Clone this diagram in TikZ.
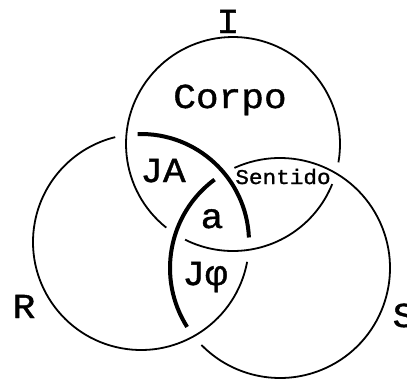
\documentclass[tikz,border=0pt]{standalone}
\usepackage{fontspec}
\setmonofont[FakeStretch=1.08, FakeBold=1.2]{Liberation Mono}
\begin{document}
\begin{tikzpicture}[x=1pt, y=-1pt,
    ring/.style={line width=1.8pt},
    link/.style={line width=4pt},
    big/.style={font=\ttfamily\fontsize{35}{35}\selectfont, inner sep=0pt, anchor=base},
    small/.style={font=\ttfamily\fontsize{21}{21}\selectfont, inner sep=0pt, anchor=base}]
  \useasboundingbox (0,0) rectangle (407,378);
  \coordinate (cI) at (233,144);
  \coordinate (cR) at (141,242);
  \coordinate (cS) at (280,268);
  % circle I
  \draw[ring] (cI) ++(22:107) arc[start angle=22, end angle=116.6, radius=107];
  \draw[ring] (cI) ++(128.6:107) arc[start angle=128.6, end angle=369.9, radius=107];
  % circle R
  \draw[ring] (cR) ++(10.6:108) arc[start angle=10.6, end angle=256.2, radius=108];
  \draw[link] (cR) ++(-91.8:108) arc[start angle=-91.8, end angle=-2.4, radius=108];
  % circle S
  \draw[ring] (cS) ++(-114.5:110) arc[start angle=-114.5, end angle=135.6, radius=110];
  \draw[link] (cS) ++(147.6:110) arc[start angle=147.6, end angle=233.5, radius=110];
  % labels
  \node[big] (lblI) at (228,33) {I};
  \node[big] (lblCorpo) at (230,108) {Corpo};
  \node[big] (lblJA) at (163,182) {JA};
  \node[small] (lblSentido) at (283,184) {Sentido};
  \node[big] (lblA) at (212,228) {a};
  \node[big] (lblJphi) at (205,285) {Jφ};
  \node[big] (lblR) at (24,318) {R};
  \node[big] (lblS) at (404,327) {S};
\end{tikzpicture}
\end{document}
